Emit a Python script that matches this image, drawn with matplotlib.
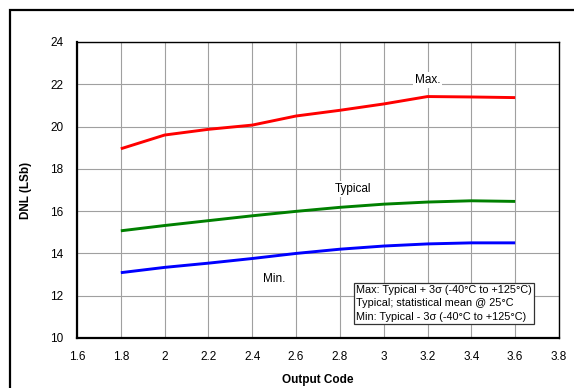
import matplotlib
matplotlib.use("Agg")
import matplotlib.pyplot as plt
from matplotlib.patches import Rectangle

plt.rcParams['font.family'] = ['Liberation Sans', 'DejaVu Sans']

output_code = [1.8, 2.0, 2.2, 2.4, 2.6, 2.8, 3.0, 3.2, 3.4, 3.6]
dnl_max = [18.95, 19.6, 19.87, 20.07, 20.5, 20.77, 21.07, 21.42, 21.4, 21.37]
dnl_typ = [15.07, 15.32, 15.55, 15.78, 15.99, 16.18, 16.33, 16.43, 16.49, 16.46]
dnl_min = [13.09, 13.34, 13.54, 13.76, 14.0, 14.2, 14.35, 14.45, 14.5, 14.5]

x_ticks = [1.6, 1.8, 2.0, 2.2, 2.4, 2.6, 2.8, 3.0, 3.2, 3.4, 3.6, 3.8]
x_tick_labels = ['1.6', '1.8', '2', '2.2', '2.4', '2.6', '2.8', '3', '3.2', '3.4', '3.6', '3.8']
y_ticks = [10, 12, 14, 16, 18, 20, 22, 24]

W, H = 574, 388
fig = plt.figure(figsize=(W / 100, H / 100), dpi=100)
ax = fig.add_axes([77 / W, 1 - 338 / H, (559 - 77) / W, (338 - 42) / H])

ax.plot(output_code, dnl_max, color='#ff0000', lw=2.1, solid_capstyle='butt', zorder=3)
ax.plot(output_code, dnl_typ, color='#008000', lw=2.1, solid_capstyle='butt', zorder=3)
ax.plot(output_code, dnl_min, color='#0000ff', lw=2.1, solid_capstyle='butt', zorder=3)

ax.set_xlim(1.6, 3.8)
ax.set_ylim(10, 24)
ax.set_xticks(x_ticks)
ax.set_xticklabels(x_tick_labels)
ax.set_yticks(y_ticks)
ax.tick_params(axis='both', length=0, labelsize=8.5, colors='black')
ax.tick_params(axis='x', pad=9)
ax.tick_params(axis='y', pad=10)
ax.grid(True, color='#a0a0a0', lw=0.8)
ax.set_axisbelow(True)

for side in ['left', 'bottom']:
    ax.spines[side].set_linewidth(1.6)
for side in ['top', 'right']:
    ax.spines[side].set_linewidth(1.0)

ax.set_xlabel('Output Code', fontsize=8.5, fontweight='bold', labelpad=8)
ax.set_ylabel('DNL (LSb)', fontsize=8.5, fontweight='bold', labelpad=13)

bbox_white = dict(facecolor='white', edgecolor='none', pad=1.5)
ax.text(3.2, 22.2, 'Max.', fontsize=8.5, ha='center', va='center', bbox=bbox_white, zorder=4)
ax.text(2.86, 17.05, 'Typical', fontsize=8.5, ha='center', va='center', bbox=bbox_white, zorder=4)
ax.text(2.5, 12.8, 'Min.', fontsize=8.5, ha='center', va='center', zorder=4)

legend_text = ('Max: Typical + 3σ (-40°C to +125°C)\n'
               'Typical; statistical mean @ 25°C\n'
               'Min: Typical - 3σ (-40°C to +125°C)')
ax.text(356 / W, 1 - 303.5 / H, legend_text, transform=fig.transFigure, fontsize=7.8,
        ha='left', va='center', linespacing=1.4, zorder=5,
        bbox=dict(facecolor='white', edgecolor='#333333', lw=0.9, boxstyle='square,pad=0.2'))

fig.patches.append(Rectangle((10 / W, -0.1), 1.2, 1 - 10 / H + 0.1, transform=fig.transFigure,
                             fill=False, edgecolor='black', lw=1.6, clip_on=False))

fig.savefig('out.png', dpi=100)
